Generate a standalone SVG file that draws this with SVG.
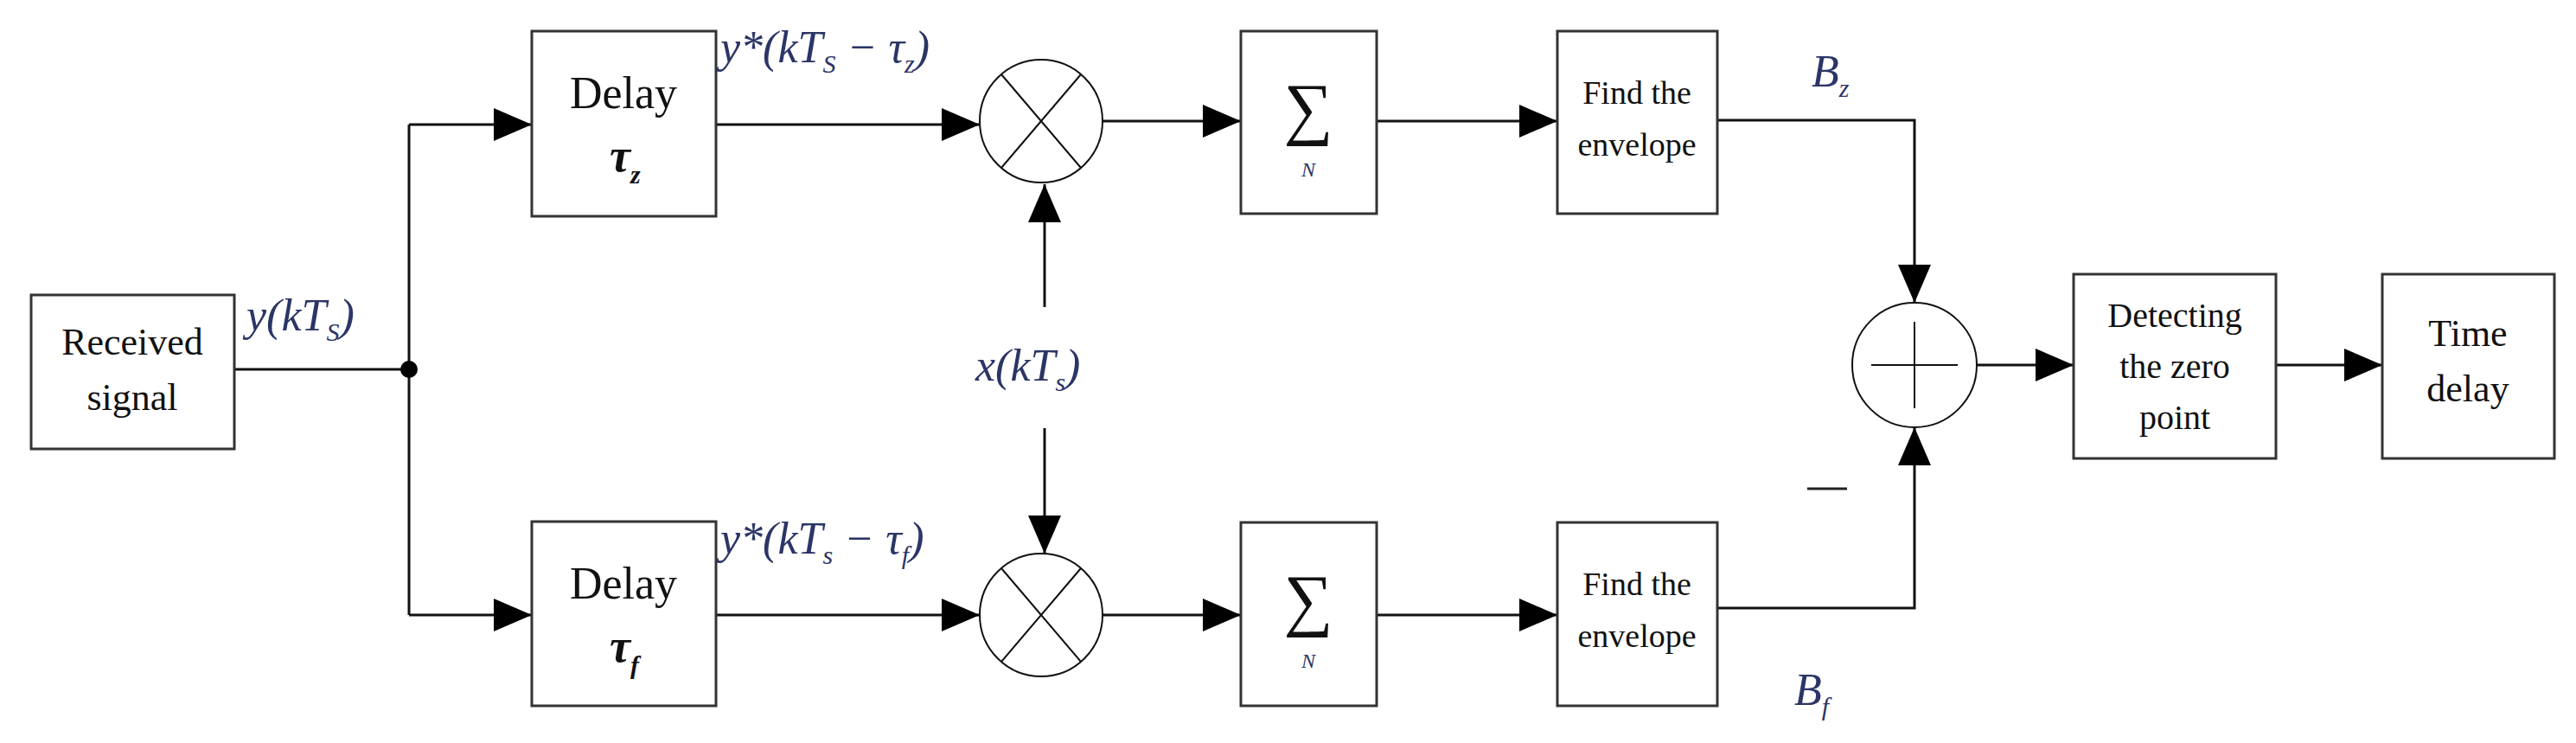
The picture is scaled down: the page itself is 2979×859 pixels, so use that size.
<svg xmlns="http://www.w3.org/2000/svg" width="2979" height="859" viewBox="0 0 2979 859">
<defs>
<marker id="ar" viewBox="0 0 10 10" refX="10" refY="5" markerWidth="44" markerHeight="38" markerUnits="userSpaceOnUse" orient="auto" preserveAspectRatio="none">
<path d="M0,0 L10,5 L0,10 z" fill="#000"/>
</marker>
<style>
.b{fill:#fff;stroke:#333;stroke-width:3}
.c{fill:none;stroke:#111;stroke-width:3}
.l{fill:none;stroke:#111;stroke-width:3;marker-end:url(#ar)}
.t{font-family:"Liberation Serif",serif;font-size:42px;fill:#111;text-anchor:middle}
.m{font-family:"Liberation Serif",serif;font-style:italic;font-size:52px;fill:#2b3566}
.k{font-family:"Liberation Serif",serif;font-style:italic;font-weight:bold;font-size:54px;fill:#111}
</style>
</defs>
<g id="connectors">
<path class="c" d="M271,427 H473 M473,144 V711"/>
<path class="l" d="M473,144 H615"/>
<path class="l" d="M473,711 H615"/>
<path class="l" d="M828,144 H1133"/>
<path class="l" d="M828,711 H1133"/>
<path class="l" d="M1275,140 H1435"/>
<path class="l" d="M1275,711 H1435"/>
<path class="l" d="M1592,140 H1801"/>
<path class="l" d="M1592,711 H1801"/>
<path class="l" d="M1208,355 V213"/>
<path class="l" d="M1208,495 V640"/>
<path class="l" d="M1986,139 H2214 V350"/>
<path class="l" d="M1986,703 H2214 V494"/>
<path class="l" d="M2286,422 H2398"/>
<path class="l" d="M2632,422 H2755"/>
<circle cx="473" cy="427" r="10" fill="#000"/>
</g>
<g id="received"><rect class="b" x="36" y="341" width="235" height="178"/>
<text class="t" x="153" y="410" style="font-size:44px">Received</text><text class="t" x="153" y="474" style="font-size:44px">signal</text></g>
<g id="delay_z"><rect class="b" x="615" y="36" width="213" height="214"/>
<text class="t" x="721" y="125" style="font-size:52px">Delay</text>
<text class="k" x="705" y="198">τ<tspan font-size="30" dy="14">z</tspan></text></g>
<g id="delay_f"><rect class="b" x="615" y="603" width="213" height="213"/>
<text class="t" x="721" y="692" style="font-size:52px">Delay</text>
<text class="k" x="705" y="765">τ<tspan font-size="30" dy="14">f</tspan></text></g>
<g id="mult_z"><circle class="c" cx="1204" cy="140" r="71" style="stroke-width:2"/>
<path class="c" style="stroke-width:2" d="M1158,86 L1250,194 M1250,86 L1158,194"/></g>
<g id="mult_f"><circle class="c" cx="1204" cy="711" r="71" style="stroke-width:2"/>
<path class="c" style="stroke-width:2" d="M1158,657 L1250,765 M1250,657 L1158,765"/></g>
<g id="sum_z"><rect class="b" x="1435" y="36" width="157" height="211"/>
<text class="t" x="1513" y="152" style="font-size:80px">∑</text>
<text class="m" x="1513" y="204" style="font-size:24px;text-anchor:middle">N</text></g>
<g id="sum_f"><rect class="b" x="1435" y="604" width="157" height="212"/>
<text class="t" x="1513" y="720" style="font-size:80px">∑</text>
<text class="m" x="1513" y="772" style="font-size:24px;text-anchor:middle">N</text></g>
<g id="env_z"><rect class="b" x="1801" y="36" width="185" height="211"/>
<text class="t" x="1893" y="120" style="font-size:38px">Find the</text><text class="t" x="1893" y="180" style="font-size:38px">envelope</text></g>
<g id="env_f"><rect class="b" x="1801" y="604" width="185" height="212"/>
<text class="t" x="1893" y="688" style="font-size:38px">Find the</text><text class="t" x="1893" y="748" style="font-size:38px">envelope</text></g>
<g id="adder"><circle class="c" cx="2214" cy="422" r="72" style="stroke-width:2"/>
<path class="c" style="stroke-width:2" d="M2164,422 H2264 M2214,372 V472"/></g>
<g id="detect"><rect class="b" x="2398" y="317" width="234" height="213"/>
<text class="t" x="2515" y="378" style="font-size:40px">Detecting</text><text class="t" x="2515" y="437" style="font-size:40px">the zero</text><text class="t" x="2515" y="496" style="font-size:40px">point</text></g>
<g id="timedelay"><rect class="b" x="2755" y="317" width="199" height="213"/>
<text class="t" x="2854" y="400" style="font-size:44px">Time</text><text class="t" x="2854" y="464" style="font-size:44px">delay</text></g>
<g id="labels">
<text class="m" x="285" y="382">y(kT<tspan font-size="30" dy="12">S</tspan><tspan dy="-12">)</tspan></text>
<text class="m" x="833" y="72">y*(kT<tspan font-size="30" dy="12">S</tspan><tspan dy="-12"> − τ</tspan><tspan font-size="30" dy="12">z</tspan><tspan dy="-12">)</tspan></text>
<text class="m" x="833" y="640">y*(kT<tspan font-size="30" dy="12">s</tspan><tspan dy="-12"> − τ</tspan><tspan font-size="30" dy="12">f</tspan><tspan dy="-12">)</tspan></text>
<text class="m" x="1128" y="440">x(kT<tspan font-size="30" dy="12">s</tspan><tspan dy="-12">)</tspan></text>
<text class="m" x="2095" y="100">B<tspan font-size="30" dy="12">z</tspan></text>
<text class="m" x="2075" y="815">B<tspan font-size="30" dy="12">f</tspan></text>
<path d="M2090,565 H2136" stroke="#222" stroke-width="3"/>
</g>
</svg>
